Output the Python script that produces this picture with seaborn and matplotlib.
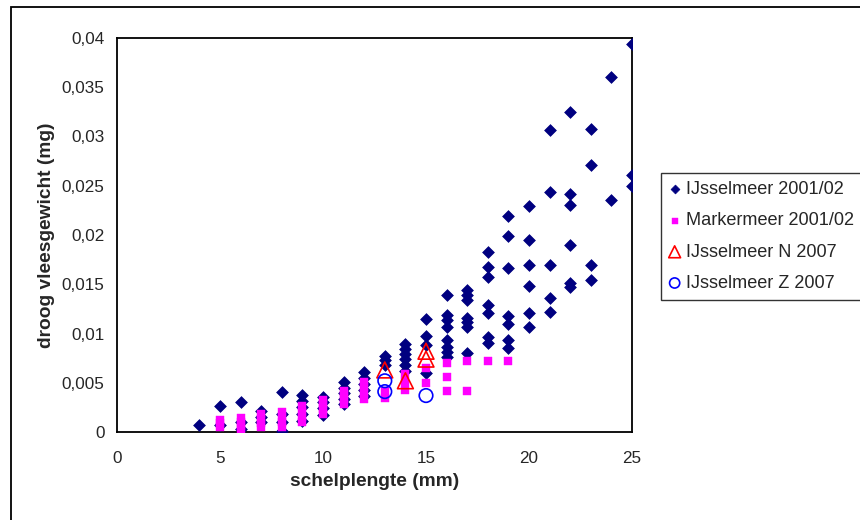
import pandas as pd
import matplotlib
matplotlib.use("Agg")
import matplotlib.pyplot as plt
from matplotlib.patches import Rectangle
import seaborn as sns

sns.set_style("white")
plt.rcParams['font.family'] = ['Liberation Sans', 'DejaVu Sans']

# IJsselmeer 2001/02 (shell length mm, dry flesh weight mg)
ijssel_x = [4,
            5, 5,
            6, 6, 6,
            7, 7, 7,
            8, 8, 8, 8,
            9, 9, 9, 9, 9,
            10, 10, 10, 10,
            11, 11, 11, 11, 11,
            12, 12, 12, 12, 12,
            13, 13, 13,
            14, 14, 14, 14, 14, 14,
            15, 15, 15, 15,
            16, 16, 16, 16, 16, 16, 16, 16,
            17, 17, 17, 17, 17, 17, 17,
            18, 18, 18, 18, 18, 18, 18,
            19, 19, 19, 19, 19, 19, 19,
            20, 20, 20, 20, 20, 20,
            21, 21, 21, 21, 21,
            22, 22, 22, 22, 22, 22,
            23, 23, 23, 23,
            24, 24,
            25, 25, 25]
ijssel_y = [0.0007,
            0.0026, 0.0007,
            0.0030, 0.0010, 0.0003,
            0.0021, 0.0015, 0.0010,
            0.0041, 0.0018, 0.0010, 0.0001,
            0.0038, 0.0031, 0.0025, 0.0018, 0.0011,
            0.0036, 0.0030, 0.0024, 0.0017,
            0.0051, 0.0045, 0.0040, 0.0034, 0.0028,
            0.0061, 0.0055, 0.0049, 0.0043, 0.0037,
            0.0077, 0.0073, 0.0068,
            0.0089, 0.0084, 0.0079, 0.0074, 0.0068, 0.0062,
            0.0115, 0.0097, 0.0088, 0.0060,
            0.0139, 0.0119, 0.0114, 0.0107, 0.0093, 0.0086, 0.0081, 0.0076,
            0.0144, 0.0139, 0.0134, 0.0116, 0.0112, 0.0107, 0.0080,
            0.0183, 0.0168, 0.0157, 0.0129, 0.0121, 0.0096, 0.0090,
            0.0219, 0.0199, 0.0167, 0.0118, 0.0110, 0.0093, 0.0085,
            0.0229, 0.0195, 0.0170, 0.0148, 0.0121, 0.0107,
            0.0307, 0.0244, 0.0170, 0.0136, 0.0122,
            0.0325, 0.0242, 0.0230, 0.0190, 0.0151, 0.0147,
            0.0308, 0.0271, 0.0170, 0.0154,
            0.0360, 0.0236,
            0.0394, 0.0261, 0.0250]

# Markermeer 2001/02
marker_x = [5, 5, 5,
            6, 6, 6, 6,
            7, 7, 7, 7,
            8, 8, 8, 8,
            9, 9, 9, 9,
            10, 10, 10, 10,
            11, 11, 11, 11,
            12, 12, 12, 12,
            13, 13,
            14, 14, 14,
            15, 15,
            16, 16, 16,
            17, 17,
            18,
            19]
marker_y = [0.0005, 0.0009, 0.0012,
            0.0002, 0.0006, 0.0010, 0.0014,
            0.0005, 0.0009, 0.0013, 0.0018,
            0.0005, 0.0010, 0.0015, 0.0020,
            0.0010, 0.0015, 0.0020, 0.0026,
            0.0018, 0.0023, 0.0028, 0.0032,
            0.0028, 0.0033, 0.0038, 0.0042,
            0.0034, 0.0040, 0.0046, 0.0051,
            0.0035, 0.0042,
            0.0043, 0.0051, 0.0059,
            0.0050, 0.0065,
            0.0042, 0.0056, 0.0070,
            0.0042, 0.0072,
            0.0072,
            0.0072]

# IJsselmeer N 2007
north_x = [13, 14, 15, 15]
north_y = [0.0063, 0.0052, 0.0082, 0.0074]

# IJsselmeer Z 2007
south_x = [13, 13, 15]
south_y = [0.0052, 0.0041, 0.0037]

y_ticks = [0, 0.005, 0.01, 0.015, 0.02, 0.025, 0.03, 0.035, 0.04]
y_tick_labels = ['0', '0,005', '0,01', '0,015', '0,02', '0,025', '0,03', '0,035', '0,04']
x_ticks = [0, 5, 10, 15, 20, 25]

fig = plt.figure(figsize=(8.6, 5.2), dpi=100)
ax = fig.add_axes([117/860, 1 - 432/520, 515/860, 394/520])

sns.scatterplot(x=ijssel_x, y=ijssel_y, ax=ax, marker='D', s=36, color='#000080',
                edgecolor='#000080', linewidth=0.5, label='IJsselmeer 2001/02', zorder=3)
sns.scatterplot(x=marker_x, y=marker_y, ax=ax, marker='s', s=34, color='#FF00FF',
                edgecolor='#FF00FF', linewidth=0.3, label='Markermeer 2001/02', zorder=4)
sns.scatterplot(x=north_x, y=north_y, ax=ax, marker='^', s=130, facecolor='none',
                edgecolor='#FF0000', linewidth=1.2, label='IJsselmeer N 2007', zorder=5)
sns.scatterplot(x=south_x, y=south_y, ax=ax, marker='o', s=95, facecolor='none',
                edgecolor='#0000FF', linewidth=1.2, label='IJsselmeer Z 2007', zorder=6)

ax.set_xlim(0, 25)
ax.set_ylim(0, 0.04)
ax.set_xticks(x_ticks)
ax.set_yticks(y_ticks)
ax.set_yticklabels(y_tick_labels)
ax.tick_params(axis='both', labelsize=12.3, direction='out', length=5, width=1, color='black')
ax.tick_params(axis='y', pad=4)
ax.tick_params(axis='x', pad=9)
for sp in ax.spines.values():
    sp.set_color('black')
    sp.set_linewidth(1.3)

ax.set_xlabel('schelplengte (mm)', fontsize=13.8, fontweight='bold')
ax.set_ylabel('droog vleesgewicht (mg)', fontsize=13.8, fontweight='bold')
ax.xaxis.set_label_coords(0.5, -0.105)
ax.yaxis.set_label_coords(-0.12, 0.5)

leg = ax.legend(loc='upper left', bbox_to_anchor=(661/860, 1 - 173/520),
                bbox_transform=fig.transFigure, frameon=True, fancybox=False,
                edgecolor='black', fontsize=13.1, handlelength=0.6, handletextpad=0.3,
                borderpad=0.45, labelspacing=0.78, borderaxespad=0, markerscale=0.75)
leg.get_frame().set_linewidth(1.0)

# outer chart border
fig.patches.append(Rectangle((11/860, -0.1), 1.2, 1.1 - 7/520, transform=fig.transFigure,
                             fill=False, edgecolor='black', linewidth=1.3, zorder=0))

fig.savefig('out.png', dpi=100)
